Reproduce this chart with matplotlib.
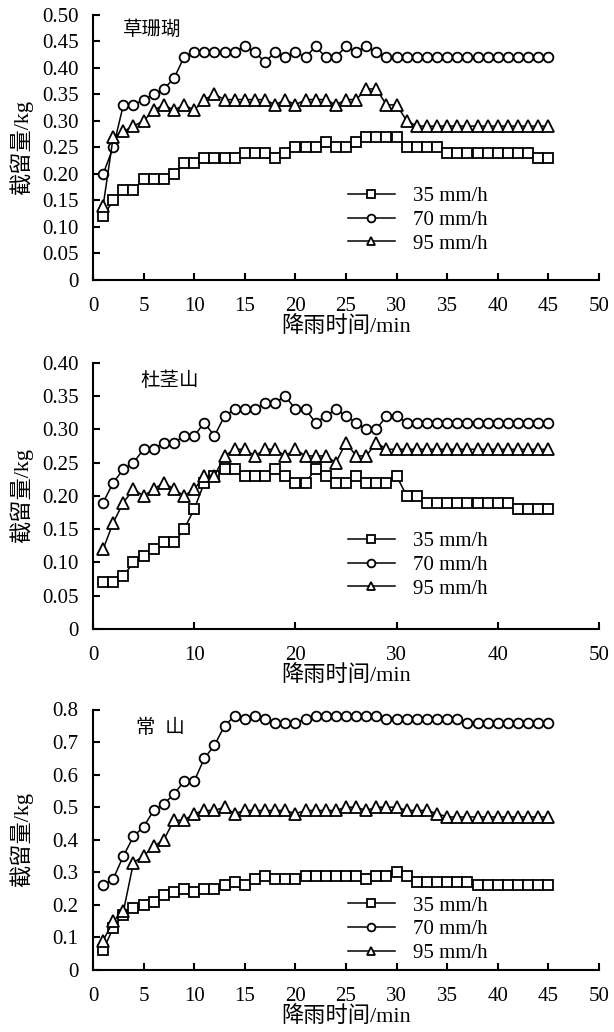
import matplotlib
matplotlib.use('Agg')
import matplotlib.pyplot as plt
from matplotlib.ticker import FixedLocator, FuncFormatter

plt.rcParams['font.family'] = ['Liberation Serif', 'Noto Sans CJK SC']
plt.rcParams['axes.unicode_minus'] = False

# rainfall time, min
minutes = list(range(1, 46))
intensity_labels = ['35 mm/h', '70 mm/h', '95 mm/h']

# 草珊瑚
csh_35 = [0.12, 0.15, 0.17, 0.17, 0.19, 0.19, 0.19, 0.20, 0.22, 0.22,
          0.23, 0.23, 0.23, 0.23, 0.24, 0.24, 0.24, 0.23, 0.24, 0.25,
          0.25, 0.25, 0.26, 0.25, 0.25, 0.26, 0.27, 0.27, 0.27, 0.27,
          0.25, 0.25, 0.25, 0.25, 0.24, 0.24, 0.24, 0.24, 0.24, 0.24,
          0.24, 0.24, 0.24, 0.23, 0.23]
csh_70 = [0.20, 0.25, 0.33, 0.33, 0.34, 0.35, 0.36, 0.38, 0.42, 0.43,
          0.43, 0.43, 0.43, 0.43, 0.44, 0.43, 0.41, 0.43, 0.42, 0.43,
          0.42, 0.44, 0.42, 0.42, 0.44, 0.43, 0.44, 0.43, 0.42, 0.42,
          0.42, 0.42, 0.42, 0.42, 0.42, 0.42, 0.42, 0.42, 0.42, 0.42,
          0.42, 0.42, 0.42, 0.42, 0.42]
csh_95 = [0.14, 0.27, 0.28, 0.29, 0.30, 0.32, 0.33, 0.32, 0.33, 0.32,
          0.34, 0.35, 0.34, 0.34, 0.34, 0.34, 0.34, 0.33, 0.34, 0.33,
          0.34, 0.34, 0.34, 0.33, 0.34, 0.34, 0.36, 0.36, 0.33, 0.33,
          0.30, 0.29, 0.29, 0.29, 0.29, 0.29, 0.29, 0.29, 0.29, 0.29,
          0.29, 0.29, 0.29, 0.29, 0.29]

# 杜茎山
djs_35 = [0.07, 0.07, 0.08, 0.10, 0.11, 0.12, 0.13, 0.13, 0.15, 0.18,
          0.22, 0.23, 0.24, 0.24, 0.23, 0.23, 0.23, 0.24, 0.23, 0.22,
          0.22, 0.24, 0.23, 0.22, 0.22, 0.23, 0.22, 0.22, 0.22, 0.23,
          0.20, 0.20, 0.19, 0.19, 0.19, 0.19, 0.19, 0.19, 0.19, 0.19,
          0.19, 0.18, 0.18, 0.18, 0.18]
djs_70 = [0.19, 0.22, 0.24, 0.25, 0.27, 0.27, 0.28, 0.28, 0.29, 0.29,
          0.31, 0.29, 0.32, 0.33, 0.33, 0.33, 0.34, 0.34, 0.35, 0.33,
          0.33, 0.31, 0.32, 0.33, 0.32, 0.31, 0.30, 0.30, 0.32, 0.32,
          0.31, 0.31, 0.31, 0.31, 0.31, 0.31, 0.31, 0.31, 0.31, 0.31,
          0.31, 0.31, 0.31, 0.31, 0.31]
djs_95 = [0.12, 0.16, 0.19, 0.21, 0.20, 0.21, 0.22, 0.21, 0.20, 0.21,
          0.23, 0.23, 0.26, 0.27, 0.27, 0.26, 0.27, 0.27, 0.26, 0.27,
          0.26, 0.26, 0.26, 0.25, 0.28, 0.26, 0.26, 0.28, 0.27, 0.27,
          0.27, 0.27, 0.27, 0.27, 0.27, 0.27, 0.27, 0.27, 0.27, 0.27,
          0.27, 0.27, 0.27, 0.27, 0.27]

# 常山
cs_35 = [0.06, 0.13, 0.17, 0.19, 0.20, 0.21, 0.23, 0.24, 0.25, 0.24,
         0.25, 0.25, 0.26, 0.27, 0.26, 0.28, 0.29, 0.28, 0.28, 0.28,
         0.29, 0.29, 0.29, 0.29, 0.29, 0.29, 0.28, 0.29, 0.29, 0.30,
         0.29, 0.27, 0.27, 0.27, 0.27, 0.27, 0.27, 0.26, 0.26, 0.26,
         0.26, 0.26, 0.26, 0.26, 0.26]
cs_70 = [0.26, 0.28, 0.35, 0.41, 0.44, 0.49, 0.51, 0.54, 0.58, 0.58,
         0.65, 0.69, 0.75, 0.78, 0.77, 0.78, 0.77, 0.76, 0.76, 0.76,
         0.77, 0.78, 0.78, 0.78, 0.78, 0.78, 0.78, 0.78, 0.77, 0.77,
         0.77, 0.77, 0.77, 0.77, 0.77, 0.77, 0.76, 0.76, 0.76, 0.76,
         0.76, 0.76, 0.76, 0.76, 0.76]
cs_95 = [0.09, 0.15, 0.18, 0.33, 0.35, 0.38, 0.40, 0.46, 0.46, 0.48,
         0.49, 0.49, 0.50, 0.48, 0.49, 0.49, 0.49, 0.49, 0.49, 0.48,
         0.49, 0.49, 0.49, 0.49, 0.50, 0.50, 0.49, 0.50, 0.50, 0.50,
         0.49, 0.49, 0.49, 0.48, 0.47, 0.47, 0.47, 0.47, 0.47, 0.47,
         0.47, 0.47, 0.47, 0.47, 0.47]

panels = [
    dict(name='草珊瑚', series=[csh_35, csh_70, csh_95], ymax=0.50, ystep=0.05,
         yfmt='{:.2f}', xstep=5, rect=[0.1515, 0.7287, 0.824, 0.2571],
         name_pos=(0.116, 0.942), leg_y=0.226),
    dict(name='杜茎山', series=[djs_35, djs_70, djs_95], ymax=0.40, ystep=0.05,
         yfmt='{:.2f}', xstep=10, rect=[0.1515, 0.3905, 0.824, 0.2580],
         name_pos=(0.151, 0.931), leg_y=0.240),
    dict(name='常  山', series=[cs_35, cs_70, cs_95], ymax=0.8, ystep=0.1,
         yfmt='{:.1f}', xstep=5, rect=[0.1515, 0.0601, 0.824, 0.2524],
         name_pos=(0.134, 0.931), leg_y=0.155),
]

markers = [('s', 7), ('o', 7), ('^', 8)]

fig = plt.figure(figsize=(6.14, 10.32), dpi=100)

for p in panels:
    ax = fig.add_axes(p['rect'])
    for vals, (mk, ms), lab in zip(p['series'], markers, intensity_labels):
        ax.plot(minutes, vals, color='black', lw=1.1, marker=mk, ms=ms,
                mfc='white', mec='black', mew=1.3, label=lab)

    ax.set_xlim(0, 50)
    ax.set_ylim(0, p['ymax'])
    nt = int(round(p['ymax'] / p['ystep']))
    yt = [round(i * p['ystep'], 2) for i in range(nt + 1)]
    ax.yaxis.set_major_locator(FixedLocator(yt))
    fmt = p['yfmt']
    ax.yaxis.set_major_formatter(FuncFormatter(lambda v, pos, f=fmt: '0' if abs(v) < 1e-9 else f.format(v)))
    ax.xaxis.set_major_locator(FixedLocator(list(range(0, 51, p['xstep']))))

    for side in ['top', 'right']:
        ax.spines[side].set_visible(False)
    for side in ['left', 'bottom']:
        ax.spines[side].set_linewidth(1.5)
    ax.tick_params(direction='in', length=5, width=1.5, labelsize=15)
    ax.tick_params(axis='x', pad=12)
    ax.tick_params(axis='y', pad=10.5)

    ax.set_ylabel('截留量/kg', fontsize=16)
    ax.yaxis.set_label_coords(-0.118, 0.5)
    ax.set_xlabel('降雨时间/min', fontsize=16, labelpad=0)

    ax.text(p['name_pos'][0], p['name_pos'][1], p['name'], transform=ax.transAxes,
            fontsize=14, ha='center', va='center')

    ax.legend(loc='center left', bbox_to_anchor=(0.504, p['leg_y']), frameon=False,
              fontsize=15, handlelength=2.25, handletextpad=0.85, labelspacing=0.2,
              markerscale=0.8, borderpad=0, borderaxespad=0)

fig.savefig('out.png', dpi=100)
